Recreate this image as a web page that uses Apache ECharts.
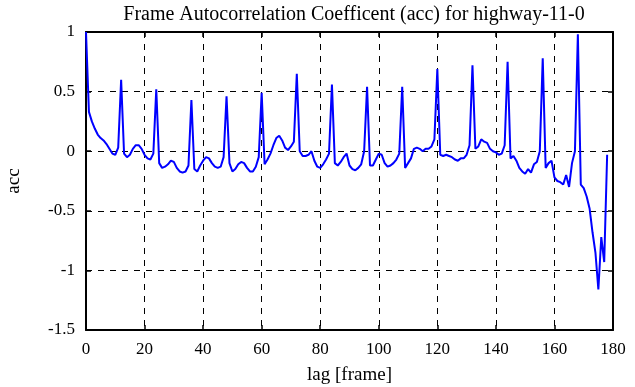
<!DOCTYPE html>
<html>
<head>
<meta charset="utf-8">
<script src="https://cdn.jsdelivr.net/npm/echarts@6/dist/echarts.min.js"></script>
<style>
  html, body { margin: 0; padding: 0; background: #fff; }
  #chart-acc { width: 635px; height: 387px; }
</style>
</head>
<body>
<div id="chart-acc"></div>
<script>
// acc values at lag 0..178
const lags = [];
for (let i = 0; i <= 178; i++) lags.push(i);

const accValues = [
    1.0, 0.33, 0.25, 0.19, 0.14, 0.11, 0.09, 0.06, 0.02, -0.02,       // 0-9
    -0.03, 0.03, 0.6, -0.02, -0.05, -0.03, 0.02, 0.05, 0.05, 0.02,    // 10-19
    -0.03, -0.06, -0.07, -0.02, 0.52, -0.1, -0.14, -0.13, -0.11, -0.08, // 20-29
    -0.09, -0.14, -0.17, -0.18, -0.17, -0.12, 0.43, -0.15, -0.17, -0.12, // 30-39
    -0.08, -0.05, -0.06, -0.1, -0.13, -0.14, -0.13, -0.05, 0.46, -0.1, // 40-49
    -0.17, -0.15, -0.11, -0.09, -0.1, -0.14, -0.17, -0.17, -0.13, -0.05, // 50-59
    0.49, -0.11, -0.07, -0.02, 0.05, 0.11, 0.13, 0.09, 0.03, 0.01,    // 60-69
    0.04, 0.08, 0.65, 0.0, -0.04, -0.04, -0.03, 0.0, -0.08, -0.13,    // 70-79
    -0.14, -0.11, -0.07, -0.02, 0.56, -0.1, -0.12, -0.09, -0.05, -0.02, // 80-89
    -0.12, -0.15, -0.16, -0.14, -0.11, 0.0, 0.54, -0.12, -0.12, -0.07, // 90-99
    -0.02, -0.03, -0.1, -0.13, -0.12, -0.1, -0.07, -0.02, 0.54, -0.14, // 100-109
    -0.1, -0.06, 0.02, 0.03, 0.02, 0.0, 0.02, 0.02, 0.04, 0.1,        // 110-119
    0.69, -0.03, -0.04, -0.03, -0.04, -0.05, -0.07, -0.08, -0.06, -0.06, // 120-129
    -0.03, 0.05, 0.72, 0.02, 0.04, 0.1, 0.08, 0.07, 0.02, 0.0,        // 130-139
    -0.01, -0.03, -0.02, 0.05, 0.75, -0.06, -0.04, -0.08, -0.14, -0.17, // 140-149
    -0.19, -0.15, -0.18, -0.11, -0.09, 0.0, 0.78, -0.14, -0.1, -0.08, // 150-159
    -0.22, -0.25, -0.26, -0.28, -0.2, -0.3, -0.1, 0.0, 0.98, -0.28,   // 160-169
    -0.31, -0.38, -0.48, -0.68, -0.85, -1.16, -0.72, -0.93, -0.03     // 170-178
];

const xTicks = [0, 20, 40, 60, 80, 100, 120, 140, 160, 180];
const yTicks = [-1.5, -1, -0.5, 0, 0.5, 1];

const FONT = "'Liberation Serif', 'DejaVu Serif', serif";

let seriesData = [];
for (let i = 0; i < lags.length; i++) {
    seriesData.push([lags[i], accValues[i]]);
}

const dashed = { show: true, lineStyle: { color: '#000', type: [6, 6], width: 1 } };
const solidAxis = { show: true, onZero: false, lineStyle: { color: '#000', width: 2 } };
const tickIn = { show: true, inside: true, length: 5, lineStyle: { color: '#000', width: 1.5 } };

const chart = echarts.init(document.getElementById('chart-acc'));
const option = {
    animation: false,
    backgroundColor: '#fff',
    title: {
        text: 'Frame Autocorrelation Coefficent (acc) for highway-11-0',
        left: 349,
        textAlign: 'center',
        top: 0,
        textStyle: { fontFamily: FONT, fontSize: 20, fontWeight: 'normal', color: '#000' }
    },
    grid: { left: 86, right: 22, top: 32, bottom: 57, containLabel: false, outerBoundsMode: 'none' },
    xAxis: [{
        type: 'value',
        min: xTicks[0],
        max: xTicks[xTicks.length - 1],
        interval: 20,
        name: 'lag [frame]',
        nameLocation: 'middle',
        nameGap: 36,
        nameTextStyle: { fontFamily: FONT, fontSize: 19, color: '#000' },
        axisLine: solidAxis,
        axisTick: tickIn,
        axisLabel: { fontFamily: FONT, fontSize: 17, color: '#000', margin: 11 },
        splitLine: dashed
    }, {
        type: 'value',
        position: 'top',
        min: xTicks[0],
        max: xTicks[xTicks.length - 1],
        interval: 20,
        axisLine: solidAxis,
        axisTick: tickIn,
        axisLabel: { show: false },
        splitLine: { show: false }
    }],
    yAxis: [{
        type: 'value',
        min: yTicks[0],
        max: yTicks[yTicks.length - 1],
        interval: 0.5,
        name: 'acc',
        nameLocation: 'middle',
        nameGap: 62,
        nameTextStyle: { fontFamily: FONT, fontSize: 19, color: '#000' },
        axisLine: solidAxis,
        axisTick: tickIn,
        axisLabel: { fontFamily: FONT, fontSize: 17, color: '#000', margin: 11 },
        splitLine: dashed
    }, {
        type: 'value',
        position: 'right',
        min: yTicks[0],
        max: yTicks[yTicks.length - 1],
        interval: 0.5,
        axisLine: solidAxis,
        axisTick: tickIn,
        axisLabel: { show: false },
        splitLine: { show: false }
    }],
    series: [{
        type: 'line',
        data: seriesData,
        showSymbol: false,
        symbol: 'none',
        lineStyle: { color: '#0000ff', width: 2 },
        itemStyle: { color: '#0000ff' },
        z: 3
    }]
};
chart.setOption(option);
</script>
</body>
</html>
